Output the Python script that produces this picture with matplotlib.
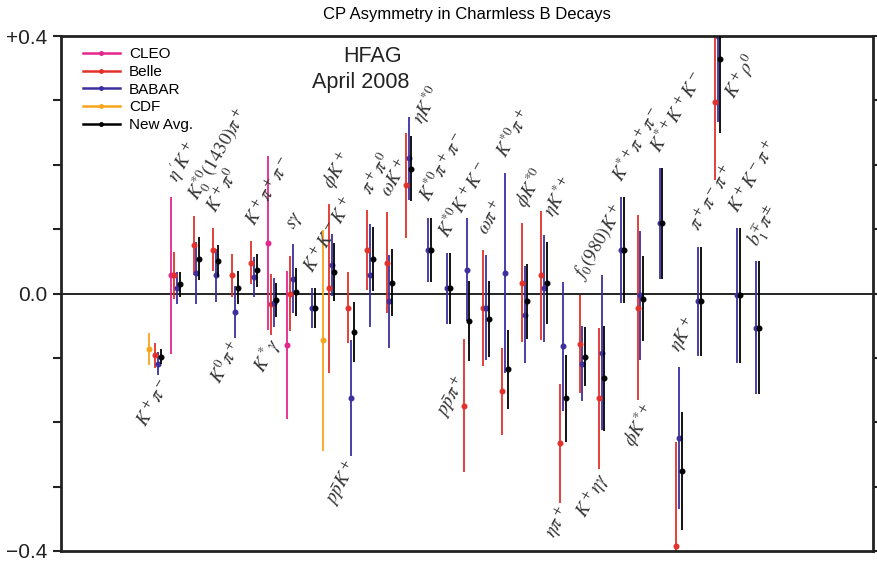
import numpy as np
import matplotlib
matplotlib.use('Agg')
import matplotlib.pyplot as plt
from matplotlib.lines import Line2D

plt.rcParams['font.family'] = ['Liberation Sans', 'DejaVu Sans']
plt.rcParams['mathtext.fontset'] = 'stix'

nan = np.nan

# decay modes, left to right
modes = [r'$K^+\pi^-$', r"$\eta' K^+$", r'$K_0^{*0}(1430)\pi^+$', r'$K^+\pi^0$',
         r'$K^0\pi^+$', r'$K^+\pi^+\pi^-$', r'$K^*\gamma$', r'$s\gamma$',
         r'$K^+K^-K^+$', r'$\phi K^+$', r'$p\bar{p}K^+$', r'$\pi^+\pi^0$',
         r'$\omega K^+$', r'$\eta K^{*0}$', r'$K^{*0}\pi^+\pi^-$', r'$K^{*0}K^+K^-$',
         r'$p\bar{p}\pi^+$', r'$\omega\pi^+$', r'$K^{*0}\pi^+$', r'$\phi K^{*0}$',
         r'$\eta K^{*+}$', r'$\eta\pi^+$', r'$f_0(980)K^+$', r'$K^+\eta\gamma$',
         r'$K^{*+}\pi^+\pi^-$', r'$\phi K^{*+}$', r'$K^{*+}K^+K^-$', r'$\eta K^+$',
         r'$\pi^+\pi^-\pi^+$', r'$K^+\rho^0$', r'$K^+K^-\pi^+$', r'$b_1^{\mp}\pi^{\pm}$']
below = [0, 4, 6, 10, 16, 21, 23, 25]

cleo_val = [nan, 0.028, nan, nan, nan, nan, 0.078, -0.080] + [nan] * 24
cleo_err = [nan, 0.122, nan, nan, nan, nan, 0.135, 0.115] + [nan] * 24

cdf_val = [-0.086] + [nan] * 8 + [-0.073] + [nan] * 22
cdf_err = [0.025] + [nan] * 8 + [0.172] + [nan] * 22

belle_val = [-0.096, 0.028, 0.075, 0.068, 0.028, 0.048, -0.017, 0.000,
             nan, 0.008, -0.022, 0.068, 0.048, 0.168, nan, nan,
             -0.174, -0.022, -0.152, 0.017, 0.028, -0.233, -0.079, -0.163,
             nan, -0.022, nan, -0.393, nan, 0.298, nan, nan]
belle_err = [0.019, 0.036, 0.046, 0.033, 0.033, 0.034, 0.047, 0.058,
             nan, 0.131, 0.055, 0.062, 0.078, 0.082, nan, nan,
             0.103, 0.090, 0.068, 0.093, 0.100, 0.093, 0.076, 0.110,
             nan, 0.144, nan, 0.163, nan, 0.121, nan, nan]

babar_val = [-0.109, 0.008, 0.032, 0.028, -0.029, 0.026, -0.014, 0.023,
             -0.022, 0.044, -0.163, 0.028, -0.012, 0.210, 0.068, 0.008,
             0.037, -0.022, 0.032, -0.033, 0.008, -0.082, -0.109, -0.092,
             0.068, -0.003, 0.109, -0.224, -0.012, 0.400, -0.003, -0.053]
babar_err = [0.018, 0.025, 0.048, 0.041, 0.040, 0.031, 0.038, 0.054,
             0.031, 0.048, 0.090, 0.080, 0.072, 0.064, 0.050, 0.055,
             0.080, 0.082, 0.155, 0.075, 0.083, 0.100, 0.058, 0.120,
             0.082, 0.100, 0.086, 0.110, 0.085, 0.134, 0.105, 0.103]

avg_val = [-0.098, 0.014, 0.054, 0.050, 0.009, 0.036, -0.010, 0.002,
           -0.022, 0.033, -0.060, 0.054, 0.017, 0.194, 0.068, 0.008,
           -0.043, -0.039, -0.118, -0.012, 0.016, -0.163, -0.098, -0.132,
           0.068, -0.008, 0.109, -0.276, -0.012, 0.365, -0.003, -0.053]
avg_err = [0.012, 0.020, 0.033, 0.025, 0.026, 0.026, 0.026, 0.037,
           0.031, 0.045, 0.047, 0.050, 0.052, 0.051, 0.050, 0.055,
           0.062, 0.059, 0.062, 0.058, 0.064, 0.068, 0.046, 0.081,
           0.082, 0.066, 0.086, 0.092, 0.085, 0.115, 0.105, 0.103]

experiments = [
    ('CLEO', cleo_val, cleo_err, '#e5268c', -0.15),
    ('CDF', cdf_val, cdf_err, '#f8a51c', -0.30),
    ('Belle', belle_val, belle_err, '#e3312b', 0.0),
    ('BABAR', babar_val, babar_err, '#3c2f9e', 0.15),
    ('New Avg.', avg_val, avg_err, 'black', 0.29),
]

fig = plt.figure(figsize=(8.78, 5.66), dpi=100)
ax = fig.add_axes([61 / 878, 15 / 566, 812 / 878, 515 / 566])

idx = np.arange(len(modes))
ax.axhline(0, color='black', lw=1.2, zorder=1)
for name, v, e, col, off in experiments:
    ax.errorbar(idx + off, v, yerr=e, fmt='o', color=col, ms=3.3, elinewidth=1.3,
                capsize=0, zorder=3 if name == 'New Avg.' else 2)

# mode labels, placed above or below each group of bars
vals = np.array([cleo_val, cdf_val, belle_val, babar_val, avg_val])
errs = np.array([cleo_err, cdf_err, belle_err, babar_err, avg_err])
tops = np.minimum(np.nanmax(vals + errs, axis=0), 0.4)
bots = np.nanmin(vals - errs, axis=0)
special = {13: (0.9, 0.262), 20: (0.65, 0.118), 29: (1.05, 0.30), 16: (0.2, -0.135)}
below_dx = {0: 0.85, 25: 1.0}
for i, lab in enumerate(modes):
    if i in below:
        x, y = i + below_dx.get(i, 0.55), bots[i] - 0.013
        ha = 'right'
    else:
        x, y = i + 0.2, tops[i] + 0.022
        ha = 'left'
    if i in special:
        x, y = i + special[i][0], special[i][1]
    ax.text(x, y, lab, rotation=60, rotation_mode='anchor', ha=ha, va='baseline',
            fontsize=13.5, color='#333333')

ax.set_xlim((61 - 155) / 19.3, (873 - 155) / 19.3)
ax.set_ylim(-0.4, 0.4)
ax.set_xticks([])
ax.set_yticks([-0.4, 0.0, 0.4])
ax.set_yticklabels(['\u22120.4', '0.0', '+0.4'], fontsize=15)
ax.set_yticks([-0.3, -0.2, -0.1, 0.1, 0.2, 0.3], minor=True)
ax.tick_params(axis='y', which='both', direction='out', length=6, width=1.5,
               right=True, pad=4, colors='#222222')
for s in ax.spines.values():
    s.set_linewidth(2)
    s.set_color('#222222')

ax.set_title('CP Asymmetry in Charmless B Decays', fontsize=12, pad=12)
ax.text(0.384, 0.961, 'HFAG', transform=ax.transAxes, ha='center', va='center',
        fontsize=15.5, color='#222222')
ax.text(0.369, 0.909, 'April 2008', transform=ax.transAxes, ha='center', va='center',
        fontsize=15.5, color='#222222')

handles = [Line2D([], [], color=col, marker='o', ms=2.5, lw=1.8)
           for name, v, e, col, off in [experiments[0], experiments[2], experiments[3],
                                         experiments[1], experiments[4]]]
ax.legend(handles, ['CLEO', 'Belle', 'BABAR', 'CDF', 'New Avg.'], loc='upper left',
          bbox_to_anchor=(0.027, 0.978), frameon=False, fontsize=11, borderpad=0,
          borderaxespad=0, handlelength=2.4, handletextpad=0.6, labelspacing=0.24)

fig.savefig('out.png', dpi=100)
